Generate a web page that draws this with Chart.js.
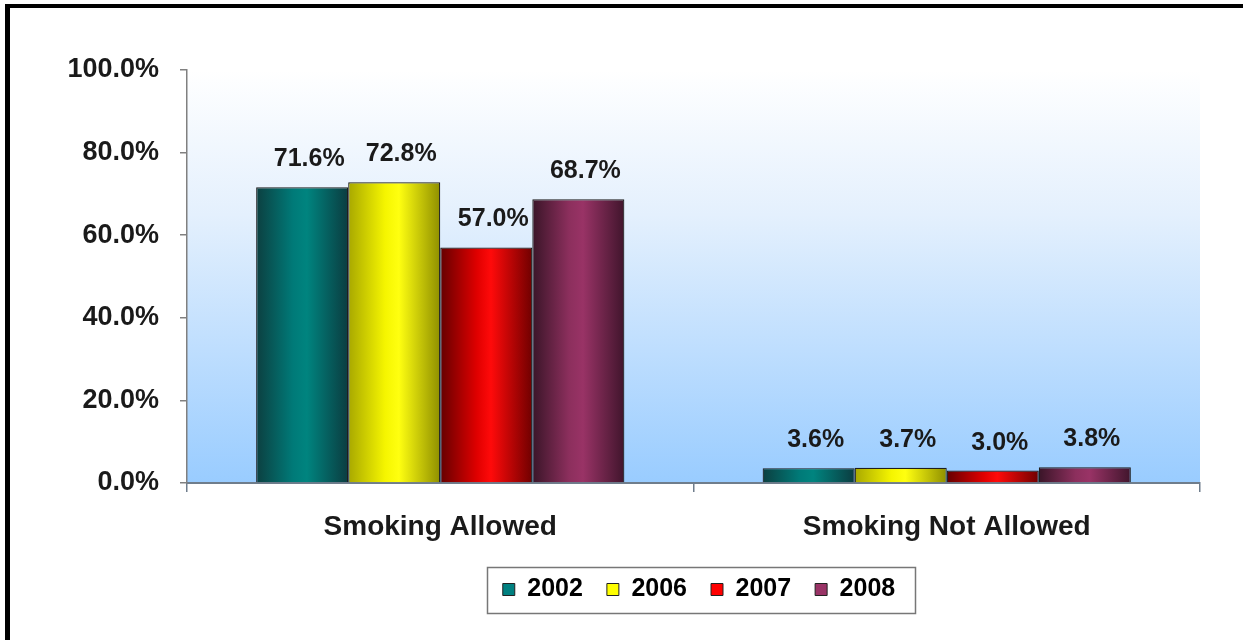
<!DOCTYPE html>
<html><head><meta charset="utf-8">
<script src="https://cdn.jsdelivr.net/npm/chart.js@4/dist/chart.umd.min.js"></script>
<style>html,body{margin:0;padding:0;background:#fff}#wrap{width:1243px;height:640px;position:relative}</style>
</head><body><div id="wrap"><canvas id="c" width="1243" height="640"></canvas></div>
<script>
const categories = ['Smoking Allowed', 'Smoking Not Allowed'];
const years = ['2002', '2006', '2007', '2008'];
const v2002 = [71.6, 3.6];
const v2006 = [72.8, 3.7];
const v2007 = [57.0, 3.0];
const v2008 = [68.7, 3.8];
const yTicks = [0, 20, 40, 60, 80, 100];

const seriesValues = [v2002, v2006, v2007, v2008];
const solid = ['#008080', '#ffff00', '#ff0000', '#993366'];
const stops = [
  ['#0c3f40', '#007a78', '#00847f', '#0b3c40'],
  ['#a8a800', '#f5f500', '#ffff10', '#8f8f00'],
  ['#650000', '#e00000', '#ff0a0a', '#700000'],
  ['#3a1528', '#8c2f5d', '#993366', '#40152c']
];
const CAT_PCT = 0.727;
const FONT = '"Liberation Sans", Arial, sans-serif';
const LEGEND_SHIFT = 94;

function barFill(ctx) {
  const chart = ctx.chart;
  const xs = chart.scales && chart.scales.x;
  const di = ctx.datasetIndex;
  if (!xs || ctx.type !== 'data' || !xs.width) return solid[di];
  const center = xs.getPixelForValue(ctx.dataIndex);
  const catW = xs.width / categories.length;
  const group = catW * CAT_PCT;
  const barW = group / years.length;
  const left = center - group / 2 + di * barW;
  const g = chart.ctx.createLinearGradient(left, 0, left + barW, 0);
  const s = stops[di];
  g.addColorStop(0, s[0]);
  g.addColorStop(0.4, s[1]);
  g.addColorStop(0.55, s[2]);
  g.addColorStop(1, s[3]);
  return g;
}

const bgPlugin = {
  id: 'bg',
  afterLayout(chart) {
    const lg = chart.legend;
    if (lg) { lg.left += LEGEND_SHIFT; lg.right += LEGEND_SHIFT; }
  },
  beforeDraw(chart) {
    const c = chart.ctx, a = chart.chartArea;
    c.save();
    c.fillStyle = '#fff';
    c.fillRect(0, 0, chart.width, chart.height);
    const g = c.createLinearGradient(0, a.top, 0, a.bottom);
    g.addColorStop(0, '#ffffff');
    g.addColorStop(0.35, '#e4f0fd');
    g.addColorStop(1, '#99ccff');
    c.fillStyle = g;
    c.fillRect(a.left, a.top, a.right - a.left, a.bottom - a.top);
    c.restore();
  },
  afterDraw(chart) {
    const c = chart.ctx;
    c.save();
    // frame
    c.fillStyle = '#000';
    c.fillRect(5, 4, 5, chart.height - 4);
    c.fillRect(5, 4, chart.width - 5, 4);
    // legend border
    const lg = chart.legend;
    if (lg && lg.legendHitBoxes && lg.legendHitBoxes.length) {
      const hb = lg.legendHitBoxes;
      let l = Infinity, r = -Infinity, cy = 0;
      hb.forEach(h => { l = Math.min(l, h.left); r = Math.max(r, h.left + h.width); cy = h.top + h.height / 2; });
      c.strokeStyle = '#777';
      c.lineWidth = 1.5;
      c.strokeRect(Math.round(l - 16) + 0.5, Math.round(cy - 23) + 0.5, Math.round(r - l + 36), 46);
    }
    // data labels
    c.fillStyle = '#1a1a1a';
    c.font = 'bold 25px ' + FONT;
    c.textAlign = 'center';
    c.textBaseline = 'middle';
    chart.data.datasets.forEach((ds, i) => {
      const meta = chart.getDatasetMeta(i);
      meta.data.forEach((el, j) => {
        c.fillText(ds.data[j].toFixed(1) + '%', el.x + 7, el.y - 28);
      });
    });
    c.restore();
  }
};

new Chart(document.getElementById('c'), {
  type: 'bar',
  data: {
    labels: categories,
    datasets: years.map((y, i) => ({
      label: y,
      data: seriesValues[i],
      backgroundColor: barFill,
      borderColor: '#1e1e1e',
      borderWidth: 1.2,
      barPercentage: 1,
      categoryPercentage: CAT_PCT
    }))
  },
  options: {
    responsive: false,
    animation: false,
    devicePixelRatio: 1,
    layout: { padding: { left: 10, right: 43, top: 70, bottom: 28 } },
    plugins: {
      tooltip: { enabled: false },
      legend: {
        position: 'bottom',
        labels: {
          font: { family: FONT, size: 25, weight: 'bold' },
          color: '#1a1a1a',
          boxWidth: 12,
          boxHeight: 12,
          padding: 24,
          generateLabels: () => years.map((y, i) => ({
            text: y, fillStyle: solid[i], strokeStyle: '#222', lineWidth: 1, datasetIndex: i, hidden: false
          }))
        }
      }
    },
    scales: {
      x: {
        afterFit(s) { s.height = 70; },
        grid: { display: true, drawOnChartArea: false, offset: true, tickLength: 9, color: '#6f7d8c', lineWidth: 1.5 },
        border: { display: true, color: '#6f7d8c', width: 2 },
        ticks: { font: { family: FONT, size: 28, weight: 'bold' }, color: '#1a1a1a', padding: 18, maxRotation: 0 }
      },
      y: {
        min: 0, max: 100,
        afterFit(s) { s.width = 187 - 10; },
        afterBuildTicks(s) { s.ticks = yTicks.map(v => ({ value: v })); },
        grid: { display: true, drawOnChartArea: false, tickLength: 7, color: '#808080', lineWidth: 1.5 },
        border: { display: true, color: '#808080', width: 1.5 },
        ticks: { font: { family: FONT, size: 27, weight: 'bold' }, color: '#1a1a1a', padding: 21,
          callback: v => Number(v).toFixed(1) + '%' }
      }
    }
  },
  plugins: [bgPlugin]
});
</script></body></html>
